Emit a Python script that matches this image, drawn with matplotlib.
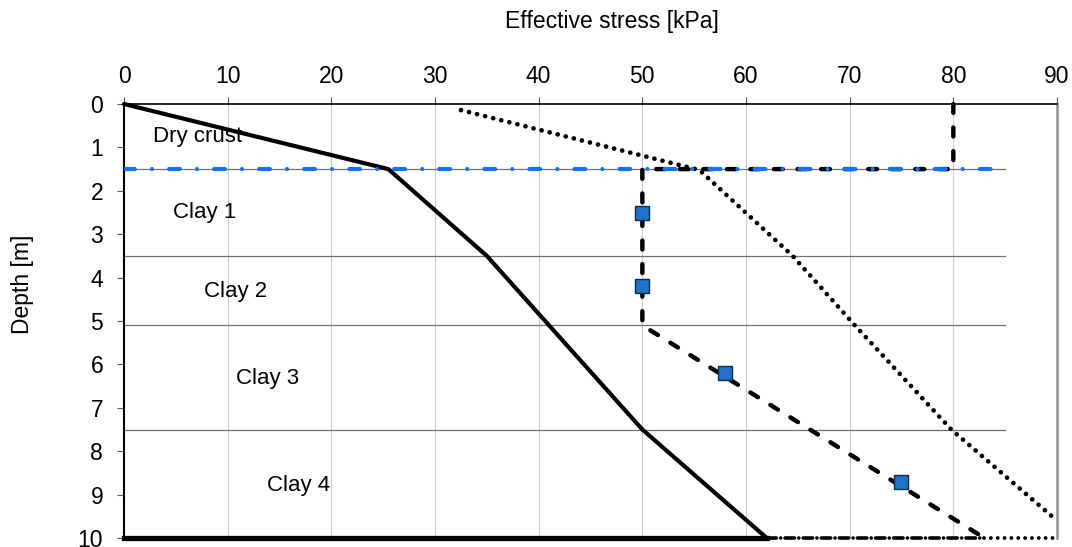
import matplotlib
matplotlib.use("Agg")
import matplotlib.pyplot as plt

plt.rcParams['font.family'] = ['Liberation Sans', 'DejaVu Sans']

# ---- data ----
# in-situ effective stress (solid)
insitu_x = [0, 25.5, 35, 50, 62]
insitu_y = [0, 1.5, 3.5, 7.5, 10]
# preconsolidation profile (dashed)
precon_x = [80, 80, 50, 50, 83]
precon_y = [0, 1.5, 1.5, 5.1, 10]
# measured preconsolidation (squares)
meas_x = [50, 50, 58, 75]
meas_y = [2.5, 4.2, 6.2, 8.7]
# dotted profile
dotted_x = [32.5, 55.5, 64.5, 70.5, 79.8, 90]
dotted_y = [0.14, 1.52, 3.5, 5.1, 7.5, 9.6]
# groundwater level
gwl_x = [0, 85]
gwl_y = [1.5, 1.5]
# layer boundaries
layer_depths = [1.5, 3.5, 5.1, 7.5]
layer_extent = [0, 85]
# bottom boundary segments
bottom_solid_x = [0, 62]
bottom_dashdot_x = [62, 83]
bottom_dot_x = [83, 90]
bottom_y = 10
# layer labels
layer_names = ["Dry crust", "Clay 1", "Clay 2", "Clay 3", "Clay 4"]
layer_label_x = [2.8, 4.7, 7.7, 10.8, 13.8]
layer_label_y = [0.76, 2.5, 4.33, 6.33, 8.78]
x_ticks = list(range(0, 91, 10))
y_ticks = list(range(0, 11))

fig = plt.figure(figsize=(10.72, 5.47), dpi=100)
ax = fig.add_axes([0.1157, 0.01645, 0.8703, 0.7934])

ax.set_xlim(0, 90)
ax.set_ylim(10, 0)

# grid
for xv in x_ticks[1:-1]:
    ax.axvline(xv, color='#cccccc', lw=0.8, zorder=0)

# layer lines
for d in layer_depths:
    ax.plot(layer_extent, [d, d], color='#707070', lw=0.9, zorder=1)

# blue groundwater line
ax.plot(gwl_x, gwl_y, color='#1470ff', lw=3.0,
        linestyle=(0, (2.6, 4.1, 0.01, 4.1)), dash_capstyle='round', zorder=4)

# in-situ solid
ax.plot(insitu_x, insitu_y, color='black', lw=3.0, zorder=3, clip_on=False,
        solid_capstyle='round')

# preconsolidation dashed
ax.plot(precon_x, precon_y, color='black', lw=3.2, linestyle=(0, (2.0, 3.3)),
        dash_capstyle='round', zorder=3, clip_on=False)

# dotted
ax.plot(dotted_x, dotted_y, color='black', lw=3.4, linestyle=(0, (0.01, 1.75)),
        dash_capstyle='round', zorder=3)

# bottom boundary
ax.plot(bottom_solid_x, [bottom_y] * 2, color='black', lw=3.8, clip_on=False, zorder=5)
ax.plot(bottom_dashdot_x, [bottom_y] * 2, color='black', lw=2.6, clip_on=False, zorder=5,
        linestyle=(0, (2.6, 1.2, 0.01, 1.2)), dash_capstyle='round')
ax.plot(bottom_dot_x, [bottom_y] * 2, color='black', lw=2.8, clip_on=False, zorder=5,
        linestyle=(0, (0.01, 1.75)), dash_capstyle='round')

# squares
ax.plot(meas_x, meas_y, linestyle='none', marker='s', markersize=10.5,
        markerfacecolor='#1f74c9', markeredgecolor='#0d2a4a', markeredgewidth=1.0,
        zorder=6)

# layer labels
for name, lx, ly in zip(layer_names, layer_label_x, layer_label_y):
    ax.text(lx, ly, name, fontsize=16, ha='left', va='center', zorder=2)

# axes styling
ax.xaxis.tick_top()
ax.set_xticks(x_ticks)
ax.set_yticks(y_ticks)
ax.tick_params(axis='both', labelsize=16.5, length=5, width=0.8,
               color='#555555', direction='out')
ax.tick_params(axis='x', pad=6.5)
ax.tick_params(axis='y', pad=10)
ax.spines['top'].set_color('black')
ax.spines['top'].set_linewidth(1.2)
ax.spines['left'].set_color('black')
ax.spines['left'].set_linewidth(1.5)
ax.spines['right'].set_color('#909090')
ax.spines['right'].set_linewidth(1.8)
ax.spines['bottom'].set_visible(False)

ax.set_xlabel("Effective stress [kPa]", fontsize=16.5)
ax.xaxis.set_label_position('top')
ax.xaxis.set_label_coords(0.523, 1.189)
ax.xaxis.label.set_va('center')
ax.set_ylabel("Depth [m]", fontsize=16.5)
ax.yaxis.set_label_coords(-0.109, 0.585)
ax.yaxis.label.set_va('center')

fig.savefig("out.png", dpi=100)
